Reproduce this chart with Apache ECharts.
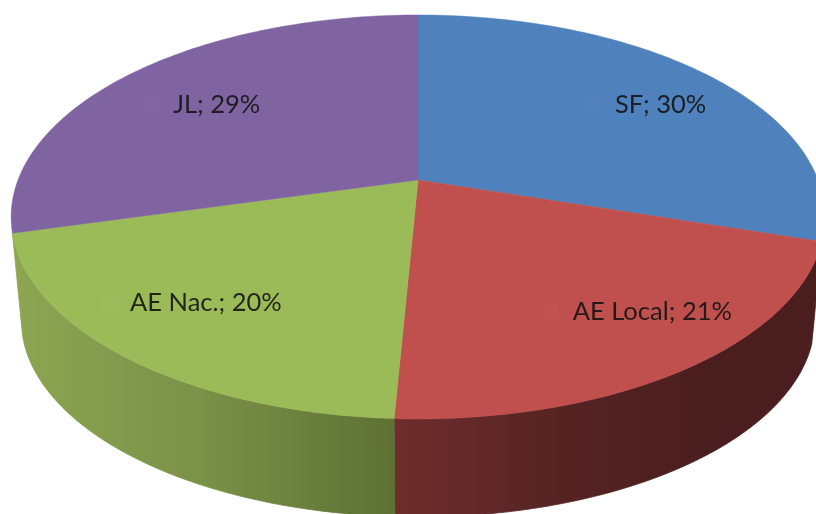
<!DOCTYPE html>
<html>
<head>
<meta charset="utf-8">
<style>html,body{margin:0;padding:0;background:#fff}#c{width:816px;height:514px}</style>
<script src="https://cdn.jsdelivr.net/npm/echarts@6/dist/echarts.min.js"></script>
</head>
<body>
<div id="c"></div>
<script>
const categories = ['SF', 'AE Local', 'AE Nac.', 'JL'];
const shares = [30, 21, 20, 29];
const topColors = ['#4f81bd', '#c0504d', '#9bbb59', '#8064a2'];

// Layout of the perspective pie (not data)
const P = {cx: 418, cy: 180, R: 400, S: 195.2, k: 0.183, depth: 104, shrink: 0.975, warp: 0.014};
const labelNudge = [[33, 0], [55, 7], [-17, 5], [5, 2]];
const labelFont = '25.5px Lato, "Open Sans", sans-serif';
const sideGradients = {
  1: {x1: 393, x2: 816, stops: [[0, '#6f2d2d'], [0.4, '#562323'], [0.75, '#4a1e1e'], [1, '#4a1e1e']]},
  2: {x1: 12, x2: 393, stops: [[0, '#8ca652'], [0.5, '#7a9148'], [1, '#5d7134']]}
};
const total = shares.reduce((a, b) => a + b, 0);
const measure = document.createElement('canvas').getContext('2d');

function project(theta, r, lower) {
  const t = theta - P.warp * Math.sin(theta / 2);
  const u = Math.sin(t) * r, v = -Math.cos(t) * r;
  const d = 1 - P.k * v;
  let x = P.R * u / d, y = P.S * v / d;
  if (lower) { x *= P.shrink; y = y * P.shrink + P.depth; }
  return [P.cx + x, P.cy + y];
}
function span(i) {
  let before = 0;
  for (let j = 0; j < i; j++) before += shares[j];
  return [before / total * 2 * Math.PI, (before + shares[i]) / total * 2 * Math.PI];
}
function rim(a, b, lower) {
  const pts = [], n = 90;
  for (let t = 0; t <= n; t++) pts.push(project(a + (b - a) * t / n, 1, lower));
  return pts;
}
function renderSide(params, api) {
  const i = api.value(0), g = sideGradients[i];
  if (!g) return {type: 'group', children: []};
  const [a, b] = span(i);
  const pts = rim(a, b, false).concat(rim(a, b, true).reverse());
  const grad = () => new echarts.graphic.LinearGradient(g.x1, 0, g.x2, 0,
    g.stops.map(s => ({offset: s[0], color: s[1]})), true);
  return {
    type: 'polygon',
    shape: {points: pts},
    style: {fill: grad(), stroke: grad(), lineWidth: 0.8}
  };
}
function renderTop(params, api) {
  const i = api.value(0);
  const [a, b] = span(i);
  const pts = [[P.cx, P.cy]].concat(rim(a, b, false));
  const c = project((a + b) / 2, 0.7, false);
  const lx = c[0] + labelNudge[i][0], ly = c[1] + labelNudge[i][1];
  const text = categories[i] + '; ' + api.value(1) + '%';
  measure.font = labelFont;
  const tw = measure.measureText(text).width;
  return {
    type: 'group',
    children: [
      {type: 'polygon', shape: {points: pts}, style: {fill: topColors[i], stroke: topColors[i], lineWidth: 0.5}},
      {type: 'rect', shape: {x: lx - tw / 2 - 30, y: ly - 8, width: 16, height: 16},
        style: {fill: 'rgba(255,255,255,0.012)'}},
      {type: 'text', x: lx, y: ly, style: {
        text: text, fill: '#111', font: labelFont,
        align: 'center', verticalAlign: 'middle', opacity: 0.88
      }}
    ]
  };
}
const data = shares.map((v, i) => [i, v]);
const chart = echarts.init(document.getElementById('c'), null, {renderer: 'canvas'});
chart.setOption({
  animation: false,
  backgroundColor: '#fff',
  series: [
    {type: 'custom', coordinateSystem: 'none', silent: true, z: 1, data: data, renderItem: renderSide},
    {type: 'custom', coordinateSystem: 'none', silent: true, z: 2, data: data, renderItem: renderTop}
  ]
});
</script>
</body>
</html>
